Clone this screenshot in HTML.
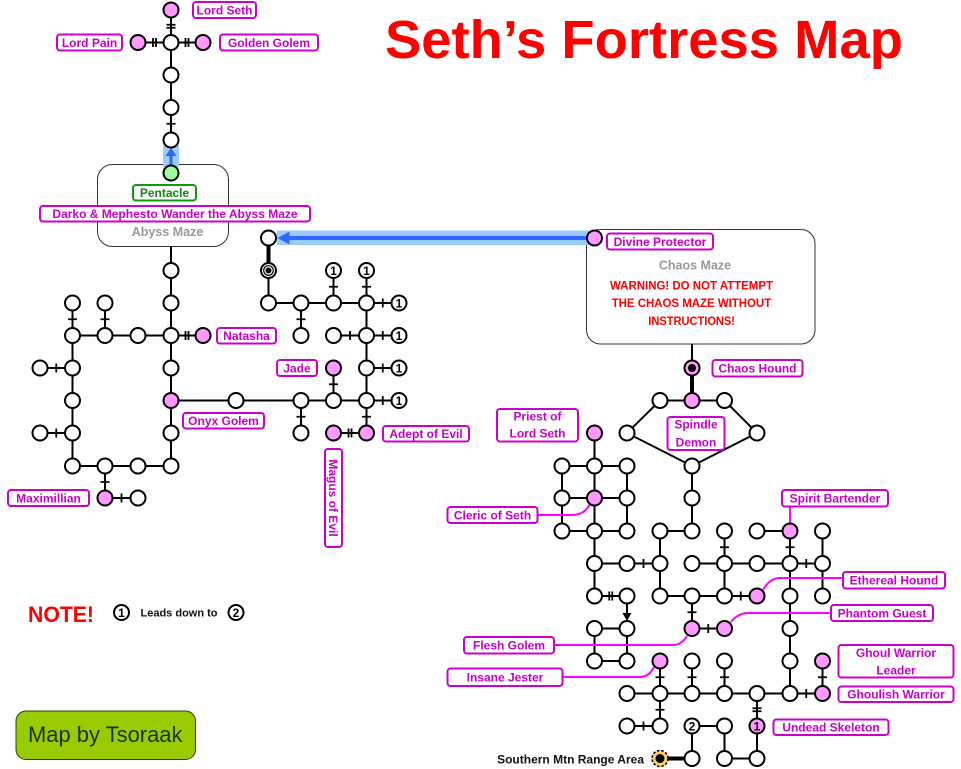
<!DOCTYPE html>
<html><head><meta charset="utf-8"><style>
html,body{margin:0;padding:0;background:#fff}
svg{display:block}
.e{stroke:#000;stroke-width:2;fill:none}
.k{stroke:#000;stroke-width:4;fill:none}
.t{stroke:#000;stroke-width:1.8;fill:none}
.n{fill:#fff;stroke:#000;stroke-width:2}
.p{fill:#ff99ff;stroke:#000;stroke-width:2}
.lb{fill:#fff;stroke:#cc00cc;stroke-width:2}
.lt{font-family:"Liberation Sans",Arial,sans-serif;font-weight:bold;font-size:12px;fill:#c800c8;text-anchor:middle}
.nt{font-family:"Liberation Sans",Arial,sans-serif;font-weight:bold;font-size:12px;fill:#000;text-anchor:middle}
.ptr{stroke:#ff00ff;stroke-width:2;fill:none}
</style></head><body>
<svg width="961" height="769" viewBox="0 0 961 769" xmlns="http://www.w3.org/2000/svg">
<rect width="961" height="769" fill="#fff"/>

<!-- Title -->
<text x="385" y="58" font-family="'Liberation Sans',Arial,sans-serif" font-weight="bold" font-size="54" fill="#ff0000" textLength="518" lengthAdjust="spacingAndGlyphs">Seth’s Fortress Map</text>

<!-- Maze boxes -->
<rect x="97.5" y="164.5" width="131" height="82" rx="15" fill="#fff" stroke="#333" stroke-width="1"/>
<rect x="586.5" y="229.5" width="228.5" height="114.5" rx="14" fill="#fff" stroke="#333" stroke-width="1"/>

<!-- Blue arrows -->
<rect x="163" y="145" width="16" height="22" fill="#99ccff"/>
<line x1="171" y1="166" x2="171" y2="154" stroke="#3366ff" stroke-width="3"/>
<polygon points="171,148 165.5,156 176.5,156" fill="#3366ff"/>
<rect x="277" y="230.5" width="312" height="14.5" fill="#99ccff"/>
<line x1="588" y1="238" x2="287" y2="238" stroke="#3366ff" stroke-width="4"/>
<polygon points="277.5,238 289.5,231.5 289.5,244.5" fill="#3366ff"/>

<!-- Edges -->
<path class="e" d="M171 10V140 M138 42.5H203
M171 246.5V466
M72.5 303V335.5 M105 303V335.5 M72.5 335.5H171 M72.5 335.5V466
M40 368H72.5 M40 433H72.5 M72.5 466H171 M105 466V498 M105 498H138
M171 335.5H203 M171 400.5H366.5
M268.5 270.5V303 M268.5 303H399 M333.5 270.5V303 M366.5 270.5V303 M301 303V335.5
M333.5 335.5H399 M366.5 303V433 M366.5 368H399 M366.5 400.5H399 M333.5 368V400.5
M301 400.5V433 M333.5 433H366.5
M692 344V368
M627 433L660 400.5H724.5L757 433L692 466Z
M692 466V531
M594.5 433V596
M562 466V531 M627 466V531 M562 466H627 M562 498H627 M562 531H627
M660 531H692 M660 531V596
M594.5 563.5H660 M692 563.5H822.5
M724.5 531V596 M757 531H790 M790 531V693.5 M822.5 531V596
M594.5 596H627 M660 596H757
M627 596V616
M692 596V628.5 M692 628.5H724.5
M594.5 628.5H627 M594.5 628.5V661 M627 628.5V661 M594.5 661H627
M660 661V726 M692 661V693.5 M724.5 661V693.5 M822.5 661V693.5
M627 693.5H822.5 M627 726H660
M757 693.5V758.5 M692 726H724.5 M692 726V758.5 M724.5 726V758.5 M724.5 758.5H757"/>
<polygon points="627,621 622.5,613 631.5,613" fill="#000"/>
<path class="k" d="M268.5 238V270.5 M692 368V400.5 M660 758.5H692"/>

<!-- Ticks -->
<path class="t" d="M166.5 24.75H175.5 M166.5 27.75H175.5 M166.5 123.75H175.5
M153 38V47 M156 38V47 M185.5 38V47 M188.5 38V47
M185.5 331V340 M188.5 331V340
M56.25 363.5V372.5 M56.25 428.5V437.5 M121.5 493.5V502.5
M68 319.25H77 M100.5 319.25H109.5 M100.5 482H109.5
M382.75 298.5V307.5 M350 331V340 M382.75 331V340 M382.75 363.5V372.5 M382.75 396V405
M348.5 428.5V437.5 M351.5 428.5V437.5
M329 286.75H338 M362 286.75H371 M296.5 319.25H305.5 M329 384.25H338 M296.5 416.75H305.5 M362 416.75H371
M643.5 559V568 M806.25 559V568 M609.25 591.5V600.5 M612.25 591.5V600.5 M740.75 591.5V600.5
M708.25 624V633 M806.25 689V698 M643.5 721.5V730.5
M720 547.25H729 M785.5 547.25H794.5 M687.5 612.25H696.5
M655.5 677.25H664.5 M687.5 677.25H696.5 M720 677.25H729 M818 677.25H827
M655.5 709.75H664.5 M752.5 708.25H761.5 M752.5 711.25H761.5"/>

<!-- Pointer lines -->
<path class="ptr" d="M537 515H572C582 515 587 510 590 504"/>
<path class="ptr" d="M843 578H780C772 578 767 583 763 590"/>
<path class="ptr" d="M831 613H748C740 613 735 617 731 622"/>
<path class="ptr" d="M554 645H673C680 645 684 641 687 636"/>
<path class="ptr" d="M562 677H640C647 677 651 673 654 667"/>
<path class="ptr" d="M790 507V523"/>

<!-- Nodes: white -->
<g class="n">
<circle cx="171" cy="42.5" r="7.5"/><circle cx="171" cy="75" r="7.5"/><circle cx="171" cy="107.5" r="7.5"/><circle cx="171" cy="140" r="7.5"/>
<circle cx="171" cy="270.5" r="7.5"/><circle cx="171" cy="303" r="7.5"/><circle cx="171" cy="335.5" r="7.5"/><circle cx="171" cy="368" r="7.5"/><circle cx="171" cy="433" r="7.5"/><circle cx="171" cy="466" r="7.5"/>
<circle cx="72.5" cy="303" r="7.5"/><circle cx="105" cy="303" r="7.5"/><circle cx="72.5" cy="335.5" r="7.5"/><circle cx="105" cy="335.5" r="7.5"/><circle cx="138" cy="335.5" r="7.5"/>
<circle cx="40" cy="368" r="7.5"/><circle cx="72.5" cy="368" r="7.5"/><circle cx="72.5" cy="400.5" r="7.5"/><circle cx="40" cy="433" r="7.5"/><circle cx="72.5" cy="433" r="7.5"/>
<circle cx="72.5" cy="466" r="7.5"/><circle cx="105" cy="466" r="7.5"/><circle cx="138" cy="466" r="7.5"/><circle cx="138" cy="498" r="7.5"/>
<circle cx="268.5" cy="238" r="7.5"/><circle cx="236" cy="400.5" r="7.5"/><circle cx="268.5" cy="303" r="7.5"/><circle cx="301" cy="303" r="7.5"/><circle cx="333.5" cy="303" r="7.5"/><circle cx="366.5" cy="303" r="7.5"/>
<circle cx="301" cy="335.5" r="7.5"/><circle cx="333.5" cy="335.5" r="7.5"/><circle cx="366.5" cy="335.5" r="7.5"/><circle cx="366.5" cy="368" r="7.5"/>
<circle cx="301" cy="400.5" r="7.5"/><circle cx="333.5" cy="400.5" r="7.5"/><circle cx="366.5" cy="400.5" r="7.5"/><circle cx="301" cy="433" r="7.5"/>
<circle cx="333.5" cy="270.5" r="7.5"/><circle cx="366.5" cy="270.5" r="7.5"/><circle cx="399" cy="303" r="7.5"/><circle cx="399" cy="335.5" r="7.5"/><circle cx="399" cy="368" r="7.5"/><circle cx="399" cy="400.5" r="7.5"/>
<circle cx="660" cy="400.5" r="7.5"/><circle cx="724.5" cy="400.5" r="7.5"/><circle cx="627" cy="433" r="7.5"/><circle cx="757" cy="433" r="7.5"/>
<circle cx="562" cy="466" r="7.5"/><circle cx="594.5" cy="466" r="7.5"/><circle cx="627" cy="466" r="7.5"/><circle cx="692" cy="466" r="7.5"/>
<circle cx="562" cy="498" r="7.5"/><circle cx="627" cy="498" r="7.5"/><circle cx="692" cy="498" r="7.5"/>
<circle cx="562" cy="531" r="7.5"/><circle cx="594.5" cy="531" r="7.5"/><circle cx="627" cy="531" r="7.5"/><circle cx="660" cy="531" r="7.5"/><circle cx="692" cy="531" r="7.5"/><circle cx="724.5" cy="531" r="7.5"/><circle cx="757" cy="531" r="7.5"/><circle cx="822.5" cy="531" r="7.5"/>
<circle cx="594.5" cy="563.5" r="7.5"/><circle cx="627" cy="563.5" r="7.5"/><circle cx="660" cy="563.5" r="7.5"/><circle cx="692" cy="563.5" r="7.5"/><circle cx="724.5" cy="563.5" r="7.5"/><circle cx="757" cy="563.5" r="7.5"/><circle cx="790" cy="563.5" r="7.5"/><circle cx="822.5" cy="563.5" r="7.5"/>
<circle cx="594.5" cy="596" r="7.5"/><circle cx="627" cy="596" r="7.5"/><circle cx="660" cy="596" r="7.5"/><circle cx="692" cy="596" r="7.5"/><circle cx="724.5" cy="596" r="7.5"/><circle cx="790" cy="596" r="7.5"/><circle cx="822.5" cy="596" r="7.5"/>
<circle cx="594.5" cy="628.5" r="7.5"/><circle cx="627" cy="628.5" r="7.5"/><circle cx="790" cy="628.5" r="7.5"/>
<circle cx="594.5" cy="661" r="7.5"/><circle cx="627" cy="661" r="7.5"/><circle cx="692" cy="661" r="7.5"/><circle cx="724.5" cy="661" r="7.5"/><circle cx="790" cy="661" r="7.5"/>
<circle cx="627" cy="693.5" r="7.5"/><circle cx="660" cy="693.5" r="7.5"/><circle cx="692" cy="693.5" r="7.5"/><circle cx="724.5" cy="693.5" r="7.5"/><circle cx="757" cy="693.5" r="7.5"/><circle cx="790" cy="693.5" r="7.5"/>
<circle cx="627" cy="726" r="7.5"/><circle cx="660" cy="726" r="7.5"/><circle cx="692" cy="726" r="7.5"/><circle cx="724.5" cy="726" r="7.5"/>
<circle cx="692" cy="758.5" r="7.5"/><circle cx="724.5" cy="758.5" r="7.5"/><circle cx="757" cy="758.5" r="7.5"/>
<circle cx="121.5" cy="612.5" r="7.5"/><circle cx="236" cy="612.5" r="7.5"/>
<circle cx="268.5" cy="270.5" r="7.5"/>
</g>
<!-- Pink nodes -->
<g class="p">
<circle cx="171" cy="10" r="7.5"/><circle cx="138" cy="42.5" r="7.5"/><circle cx="203" cy="42.5" r="7.5"/>
<circle cx="203" cy="335.5" r="7.5"/><circle cx="171" cy="400.5" r="7.5"/><circle cx="105" cy="498" r="7.5"/>
<circle cx="333.5" cy="368" r="7.5"/><circle cx="333.5" cy="433" r="7.5"/><circle cx="366.5" cy="433" r="7.5"/>
<circle cx="594.5" cy="238" r="7.5"/><circle cx="692" cy="400.5" r="7.5"/><circle cx="594.5" cy="433" r="7.5"/><circle cx="594.5" cy="498" r="7.5"/>
<circle cx="790" cy="531" r="7.5"/><circle cx="757" cy="596" r="7.5"/><circle cx="692" cy="628.5" r="7.5"/><circle cx="724.5" cy="628.5" r="7.5"/>
<circle cx="660" cy="661" r="7.5"/><circle cx="822.5" cy="661" r="7.5"/><circle cx="822.5" cy="693.5" r="7.5"/><circle cx="757" cy="726" r="7.5"/>
<circle cx="692" cy="368" r="7.5"/>
</g>
<circle cx="171" cy="173" r="7.5" fill="#99ff99" stroke="#000" stroke-width="2"/>
<!-- bullseyes -->
<circle cx="268.5" cy="270.5" r="4.8" fill="none" stroke="#000" stroke-width="1.2"/>
<circle cx="268.5" cy="270.5" r="3" fill="#000"/>
<circle cx="692" cy="368" r="4" fill="#000"/>
<circle cx="660" cy="758.5" r="8" fill="#ffcc66" stroke="#000" stroke-width="1.6" stroke-dasharray="2.5,1.8"/>
<circle cx="660" cy="758.5" r="4.5" fill="#000"/>

<!-- numbered nodes -->
<text class="nt" x="333.5" y="274.8">1</text><text class="nt" x="366.5" y="274.8">1</text>
<text class="nt" x="399" y="307.3">1</text><text class="nt" x="399" y="339.8">1</text><text class="nt" x="399" y="372.3">1</text><text class="nt" x="399" y="404.8">1</text>
<text class="nt" x="757" y="730.3">1</text><text class="nt" x="692" y="730.3">2</text>
<text class="nt" x="121.5" y="616.8">1</text><text class="nt" x="236" y="616.8">2</text>

<!-- Label boxes -->
<g class="lb">
<rect x="193" y="2" width="63" height="16" rx="3"/>
<rect x="57" y="34.5" width="65" height="16" rx="3"/>
<rect x="220" y="34.5" width="98" height="16" rx="3"/>
<rect x="40" y="206" width="270" height="15.5" rx="3"/>
<rect x="217" y="328" width="59" height="15.5" rx="3"/>
<rect x="183" y="413" width="81" height="15.5" rx="3"/>
<rect x="277" y="360" width="40" height="16" rx="3"/>
<rect x="383" y="426" width="86" height="15.5" rx="3"/>
<rect x="325" y="449" width="17" height="98" rx="3"/>
<rect x="8" y="490" width="81" height="16" rx="3"/>
<rect x="497" y="409" width="81" height="32.5" rx="3"/>
<rect x="447.5" y="507" width="90" height="16" rx="3"/>
<rect x="667.5" y="417" width="57" height="33" rx="3"/>
<rect x="712.5" y="360" width="90" height="16.5" rx="3"/>
<rect x="607" y="233.5" width="106" height="16" rx="3"/>
<rect x="782" y="490" width="106" height="16.5" rx="3"/>
<rect x="843" y="572" width="102" height="16.5" rx="3"/>
<rect x="831" y="605" width="102" height="16" rx="3"/>
<rect x="464" y="637" width="90" height="16.5" rx="3"/>
<rect x="447.5" y="668.5" width="115" height="17.5" rx="3"/>
<rect x="838.5" y="645" width="115" height="32.5" rx="3"/>
<rect x="838.5" y="686.5" width="115" height="15.5" rx="3"/>
<rect x="773.5" y="719.5" width="115" height="15.5" rx="3"/>
</g>
<rect x="133" y="185" width="63" height="15.5" rx="3" fill="#fff" stroke="#119911" stroke-width="2"/>

<g class="lt">
<text x="224.5" y="14.3">Lord Seth</text>
<text x="89.5" y="46.8">Lord Pain</text>
<text x="269" y="46.8">Golden Golem</text>
<text x="175" y="218">Darko &amp; Mephesto Wander the Abyss Maze</text>
<text x="246.5" y="340">Natasha</text>
<text x="223.5" y="425">Onyx Golem</text>
<text x="297" y="372.3">Jade</text>
<text x="426" y="438">Adept of Evil</text>
<text transform="translate(333.5,498) rotate(90)" x="0" y="4.3">Magus of Evil</text>
<text x="48.5" y="502.3">Maximillian</text>
<text x="537.5" y="420.3">Priest of</text>
<text x="537.5" y="437.6">Lord Seth</text>
<text x="492.5" y="519.3">Cleric of Seth</text>
<text x="696" y="428.6">Spindle</text>
<text x="696" y="446.6">Demon</text>
<text x="757.5" y="372.6">Chaos Hound</text>
<text x="660" y="245.8">Divine Protector</text>
<text x="835" y="502.6">Spirit Bartender</text>
<text x="894" y="584.5">Ethereal Hound</text>
<text x="882" y="617.3">Phantom Guest</text>
<text x="509" y="649.5">Flesh Golem</text>
<text x="505" y="681.6">Insane Jester</text>
<text x="896" y="657">Ghoul Warrior</text>
<text x="896" y="674.3">Leader</text>
<text x="896" y="698.6">Ghoulish Warrior</text>
<text x="831" y="731.5">Undead Skeleton</text>
</g>
<text x="164.5" y="197" font-family="'Liberation Sans',Arial,sans-serif" font-weight="bold" font-size="12" fill="#118811" text-anchor="middle">Pentacle</text>

<!-- Maze titles -->
<text x="167.5" y="236" font-family="'Liberation Sans',Arial,sans-serif" font-weight="bold" font-size="12.5" fill="#999" text-anchor="middle">Abyss Maze</text>
<text x="695" y="269.5" font-family="'Liberation Sans',Arial,sans-serif" font-weight="bold" font-size="12.5" fill="#999" text-anchor="middle">Chaos Maze</text>
<g font-family="'Liberation Sans',Arial,sans-serif" font-weight="bold" font-size="12" fill="#ff0000">
<text x="610" y="289.3" textLength="163" lengthAdjust="spacingAndGlyphs">WARNING! DO NOT ATTEMPT</text>
<text x="611.7" y="307" textLength="159.5" lengthAdjust="spacingAndGlyphs">THE CHAOS MAZE  WITHOUT</text>
<text x="648.3" y="325" textLength="86.7" lengthAdjust="spacingAndGlyphs">INSTRUCTIONS!</text>
</g>

<!-- Southern -->
<text x="644" y="763.5" font-family="'Liberation Sans',Arial,sans-serif" font-weight="bold" font-size="12" fill="#111" text-anchor="end">Southern Mtn Range Area</text>

<!-- Note -->
<text x="28" y="622" font-family="'Liberation Sans',Arial,sans-serif" font-weight="bold" font-size="22" fill="#ff0000" textLength="66" lengthAdjust="spacingAndGlyphs">NOTE!</text>
<text x="140.5" y="616.5" font-family="'Liberation Sans',Arial,sans-serif" font-weight="bold" font-size="11" fill="#111">Leads down to</text>

<!-- Map by -->
<rect x="16" y="711" width="179.5" height="48.5" rx="10" fill="#99cc00" stroke="#224400" stroke-width="1"/>
<text x="28" y="742" font-family="'Liberation Sans',Arial,sans-serif" font-size="22" fill="#1a3300" textLength="154.5" lengthAdjust="spacingAndGlyphs">Map by Tsoraak</text>
</svg>
</body></html>
